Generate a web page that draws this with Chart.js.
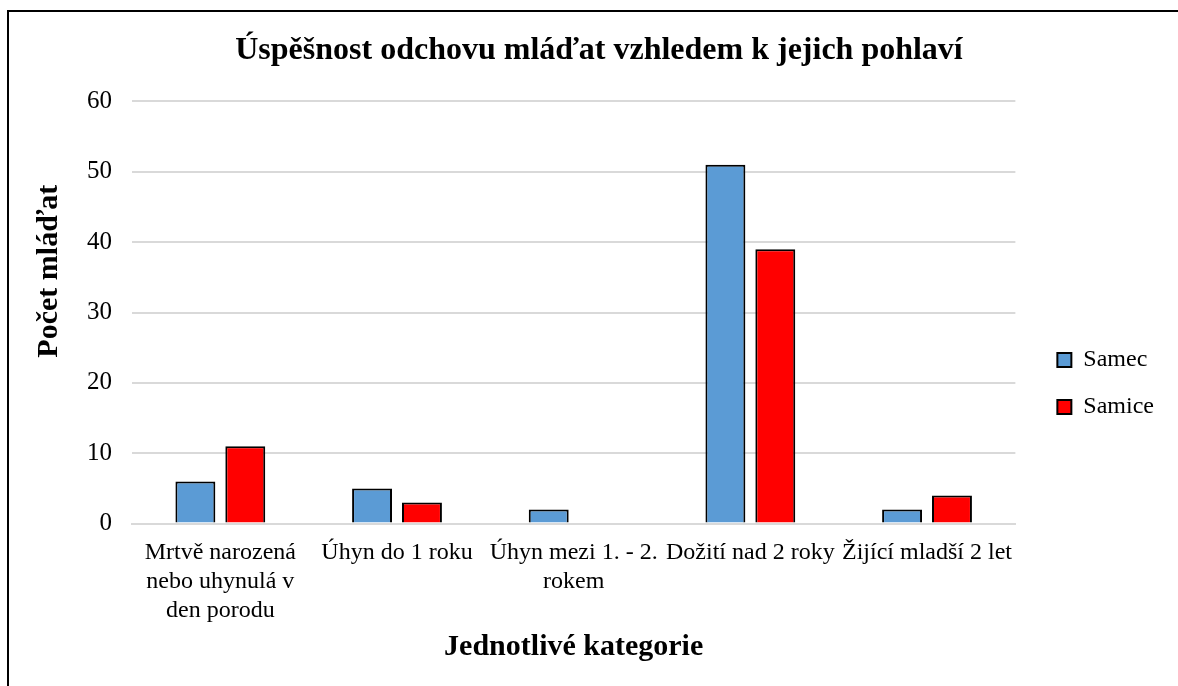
<!DOCTYPE html>
<html>
<head>
<meta charset="utf-8">
<script src="https://cdn.jsdelivr.net/npm/chart.js@4"></script>
<style>
  body { margin: 0; background: #fff; overflow: hidden; }
  #frame {
    position: absolute; left: 7px; top: 10px;
    width: 1200px; height: 700px;
    border: 2px solid #000; box-sizing: border-box;
  }
  #wrap { position: absolute; left: 9px; top: 12px; width: 1169px; height: 674px; }
</style>
</head>
<body>
<div id="frame"></div>
<div id="wrap"><canvas id="chartBar"></canvas></div>
<script>
var categories = [
    ["Mrtvě narozená", "nebo uhynulá v", "den porodu"],
    "Úhyn do 1 roku",
    ["Úhyn mezi 1. - 2.", "rokem"],
    "Dožití nad 2 roky",
    "Žijící mladší 2 let",
];
var samec = [6, 5, 2, 51, 2];
var samice = [11, 3, 0, 39, 4];
var yTicks = [0, 10, 20, 30, 40, 50, 60];

var serif = "'Liberation Serif', 'Times New Roman', serif";
var ctx = document.getElementById("chartBar").getContext("2d");

const chartBar = new Chart(ctx, {
    type: "bar",
    data: {
    labels: categories,
    datasets: [
        {
        label: "Samec",
        data: samec,
        backgroundColor: "#5B9BD5",
        borderColor: "#000",
        borderWidth: 2,
        },
        {
        label: "Samice",
        data: samice,
        backgroundColor: "#FF0000",
        borderColor: "#000",
        borderWidth: 2,
        },
    ],
    },
    options: {
    responsive: true,
    maintainAspectRatio: false,
    animation: false,
    categoryPercentage: 0.565,
    barPercentage: 0.8,
    layout: { padding: { top: 2, left: 1, right: 14, bottom: 20 } },
    plugins: {
        title: {
        display: true,
        text: "\u00A0\u00A0\u00A0Úspěšnost odchovu mláďat vzhledem k jejich pohlaví",
        color: "#000",
        font: { family: serif, size: 32, weight: "bold" },
        padding: { top: 18, bottom: 31 },
        },
        legend: {
        position: "right",
        title: {
            display: true,
            text: " ",
            font: { size: 10 },
            padding: { top: 0, bottom: 75 },
        },
        labels: {
            color: "#000",
            font: { family: serif, size: 24 },
            boxWidth: 14,
            boxHeight: 14,
            padding: 23,
        },
        },
        tooltip: { enabled: false },
    },
    scales: {
        y: {
        min: 0,
        max: 60,
        afterBuildTicks: (s) => { s.ticks = yTicks.map((v) => ({ value: v })); },
        ticks: {
            color: "#000",
            font: { family: serif, size: 25 },
            padding: 20,
        },
        grid: { color: "#d9d9d9", lineWidth: 2, drawTicks: false },
        border: { display: false },
        title: {
            display: true,
            text: "\u00A0".repeat(11) + "Počet mláďat",
            color: "#000",
            font: { family: serif, size: 30, weight: "bold" },
            padding: { top: 21, bottom: 0 },
        },
        },
        gap: {
        type: "linear",
        position: "right",
        display: true,
        afterFit: (s) => { s.width = 19; },
        ticks: { display: false },
        grid: { display: false },
        border: { display: false },
        },
        x: {
        ticks: {
            color: "#000",
            font: { family: serif, size: 24, lineHeight: 1.2 },
            padding: 7,
            maxRotation: 0,
            autoSkip: false,
        },
        grid: { display: false },
        border: { color: "#d9d9d9", width: 2 },
        title: {
            display: true,
            text: "Jednotlivé kategorie",
            color: "#000",
            font: { family: serif, size: 30, weight: "bold", lineHeight: 1 },
            padding: { top: 0 },
        },
        },
    },
    },
});
</script>
</body>
</html>
